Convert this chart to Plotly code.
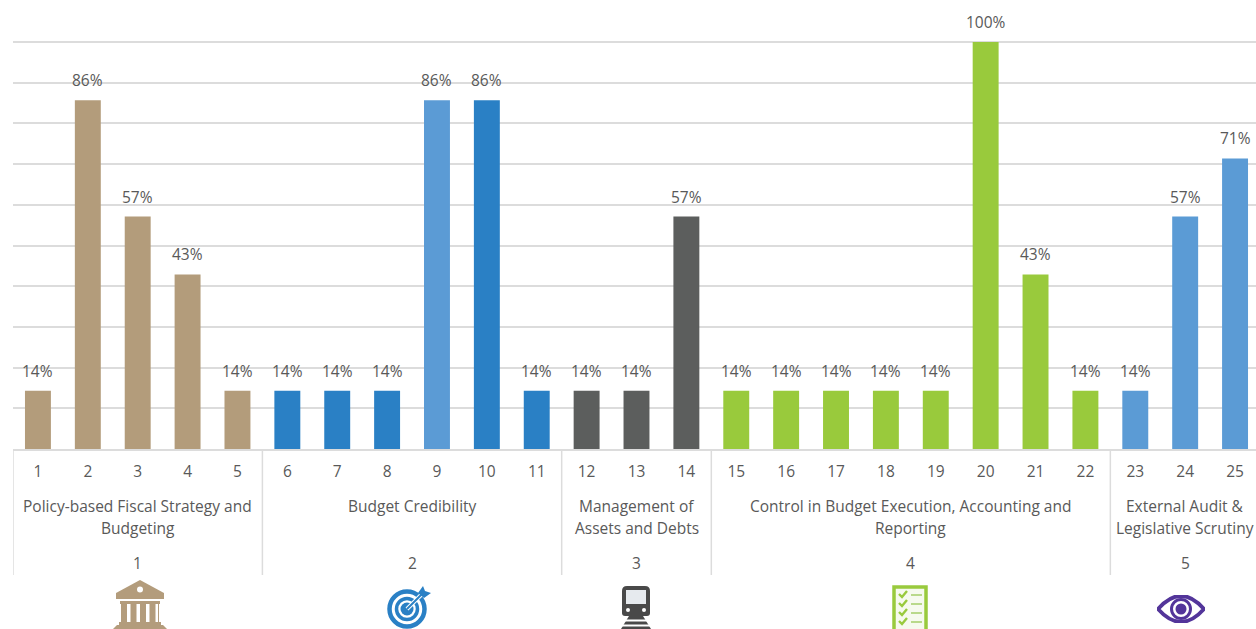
import base64
import plotly.graph_objects as go

# Indicator scores (share of assessed items)
indicators = list(range(1, 26))
scores = [0.143, 0.857, 0.571, 0.429, 0.143,
          0.143, 0.143, 0.143, 0.857, 0.857, 0.143,
          0.143, 0.143, 0.571,
          0.143, 0.143, 0.143, 0.143, 0.143, 1.0, 0.429, 0.143,
          0.143, 0.571, 0.714]

TAN, BLUE, SKY, GREY, GREEN = "#b39c7b", "#2a80c5", "#5b9bd5", "#5c5e5d", "#99ca3c"
bar_colors = [TAN] * 5 + [BLUE] * 3 + [SKY] + [BLUE] * 2 + [GREY] * 3 + [GREEN] * 8 + [SKY] * 3

# Pillars: first indicator, last indicator, wrapped title lines
pillar_numbers = [1, 2, 3, 4, 5]
pillar_first = [1, 6, 12, 15, 23]
pillar_last = [5, 11, 14, 22, 25]
pillar_titles = [
    ["Policy-based Fiscal Strategy and", "Budgeting"],
    ["Budget Credibility"],
    ["Management of", "Assets and Debts"],
    ["Control in Budget Execution, Accounting and", "Reporting"],
    ["External Audit &", "Legislative Scrutiny"],
]

FONT = "Open Sans"
TEXT = "#595959"
RULE = "#dcdcdc"

# Page geometry of the plot area, in pixels.  The plot extends a little above
# the 100% line so that its gridline is not dropped at the axis end.
W, H = 1256, 629
LEFT, TOP, BASE = 13, 39, 449
Y_FULL = 42
Y_MAX = (BASE - TOP) / (BASE - Y_FULL)


def px_x(p):
    return (p - LEFT) / (W - LEFT)


def px_y(p):
    return (BASE - p) / (BASE - TOP)


def svg_uri(body, w, h):
    svg = (f'<svg xmlns="http://www.w3.org/2000/svg" width="{w*4}" height="{h*4}" viewBox="0 0 {w} {h}">'
           f'<defs><filter id="s" x="-5%" y="-5%" width="110%" height="110%"><feGaussianBlur stdDeviation="0.6"/></filter></defs>'
           f'<g filter="url(#s)">{body}</g></svg>')
    return "data:image/svg+xml;base64," + base64.b64encode(svg.encode()).decode()


# Pillar pictograms
bank = (
    f'<g fill="{TAN}"><path d="M27 1 L51 14 L51 20 L3 20 L3 14 Z"/>'
    '<rect x="7" y="22" width="40" height="3"/>'
    + "".join(f'<rect x="{x}" y="25" width="6" height="18"/>' for x in (8, 17.5, 27, 36.5))
    + '<rect x="45" y="25" width="1" height="18"/>'
    + '<rect x="6" y="43" width="42" height="3"/><path d="M4 46 H50 L54 50 H0 Z"/></g>'
    '<circle cx="27" cy="10.5" r="3" fill="#fff"/>'
)
target = (
    f'<g fill="none" stroke="{BLUE}"><circle cx="20" cy="24" r="17.5" stroke-width="4.5"/>'
    '<circle cx="20" cy="24" r="10.5" stroke-width="3.5"/></g>'
    f'<circle cx="20" cy="24" r="6.5" fill="{BLUE}"/>'
    f'<path d="M20 24 L35 9" stroke="#fff" stroke-width="4"/>'
    f'<path d="M20 24 L35 9" stroke="{BLUE}" stroke-width="2"/>'
    f'<path d="M31 8 L36 1 L38 6 L44 8 L37 13 Z" fill="{BLUE}"/>'
)
train = (
    '<path d="M7 1 H25 Q30 1 30 6 V28 Q30 31 27 31 H5 Q2 31 2 28 V6 Q2 1 7 1 Z" fill="#4a4a4a"/>'
    '<rect x="6" y="5" width="20" height="14" fill="#e6eaee"/>'
    '<circle cx="8" cy="25" r="2" fill="#fff"/><circle cx="24" cy="25" r="2" fill="#fff"/>'
    '<path d="M9 31 H23 L31 44 H1 Z" fill="#4a4a4a"/>'
    '<rect x="4" y="34.5" width="24" height="2" fill="#fff"/><rect x="2" y="39.5" width="28" height="2" fill="#fff"/>'
)
checklist = (
    f'<rect x="2" y="2" width="32" height="44" fill="#f6faee" stroke="{GREEN}" stroke-width="3.5"/>'
    + "".join(
        f'<path d="M7 {y} L10 {y+3} L15 {y-3}" fill="none" stroke="{GREEN}" stroke-width="2.4"/>'
        f'<rect x="19" y="{y}" width="11" height="2" fill="#b9d98a"/>'
        for y in (9, 18, 27, 36)
    )
)
eye = (
    '<path d="M1 14 Q24 -12 47 14 Q24 40 1 14 Z" fill="#fff" stroke="#52349a" stroke-width="3.8"/>'
    '<circle cx="24" cy="14" r="9.5" fill="#fff" stroke="#52349a" stroke-width="3"/>'
    '<circle cx="24" cy="14" r="5.5" fill="#52349a"/>'
)
# (drawing, left, top, width, height) in page pixels
icons = [
    (bank, 113, 579, 54, 50),
    (target, 387, 585, 46, 44),
    (train, 620, 585, 32, 44),
    (checklist, 892, 585, 36, 44),
    (eye, 1157, 595, 48, 28),
]

fig = go.Figure(
    go.Bar(x=indicators, y=scores, width=0.52, marker=dict(color=bar_colors, line_width=0), cliponaxis=False)
)

annotations = []
# Value labels sit well above each bar
for i, v in zip(indicators, scores):
    annotations.append(dict(x=i, y=v, xref="x", yref="y", text=f"{v:.0%}", showarrow=False,
                            yanchor="middle", yshift=20))
# Pillar titles and numbers below the indicator numbers
line_y = {1: [506], 2: [506, 528]}
for n, a, b, lines in zip(pillar_numbers, pillar_first, pillar_last, pillar_titles):
    mid = (a + b) / 2
    for text, py in zip(lines, line_y[len(lines)]):
        annotations.append(dict(x=mid, y=px_y(py), xref="x", yref="paper", text=text, showarrow=False,
                                yanchor="middle"))
    annotations.append(dict(x=mid, y=px_y(563), xref="x", yref="paper", text=str(n), showarrow=False,
                            yanchor="middle"))

# Group separators hanging from the baseline
shapes = [
    dict(type="line", xref="x", yref="paper", x0=a - 0.5, x1=a - 0.5, y0=0, y1=px_y(575),
         line=dict(color=RULE, width=1.5), layer="below")
    for a in pillar_first
]

images = [
    dict(source=svg_uri(body, w, h), xref="paper", yref="paper", x=px_x(x), y=px_y(y),
         sizex=w / (W - LEFT), sizey=h / (BASE - TOP), xanchor="left", yanchor="top",
         sizing="stretch", layer="above")
    for body, x, y, w, h in icons
]

fig.update_layout(
    width=W, height=H,
    margin=dict(l=LEFT, r=0, t=TOP, b=H - BASE, autoexpand=False),
    paper_bgcolor="white", plot_bgcolor="white",
    font=dict(family=FONT, size=15.5, color=TEXT),
    showlegend=False,
    annotations=annotations, shapes=shapes, images=images,
    xaxis=dict(range=[0.5, 25.42], tickmode="array", tickvals=indicators, ticktext=[str(i) for i in indicators],
               ticks="outside", ticklen=8, tickcolor="rgba(0,0,0,0)", showgrid=False, zeroline=False,
               showline=True, linecolor=RULE, linewidth=1.5, fixedrange=True),
    yaxis=dict(range=[0, Y_MAX], dtick=0.1, showticklabels=False, ticks="", gridcolor=RULE, gridwidth=1.5,
               zeroline=False, fixedrange=True),
)

fig.write_html("out.html", config={"displayModeBar": False})
